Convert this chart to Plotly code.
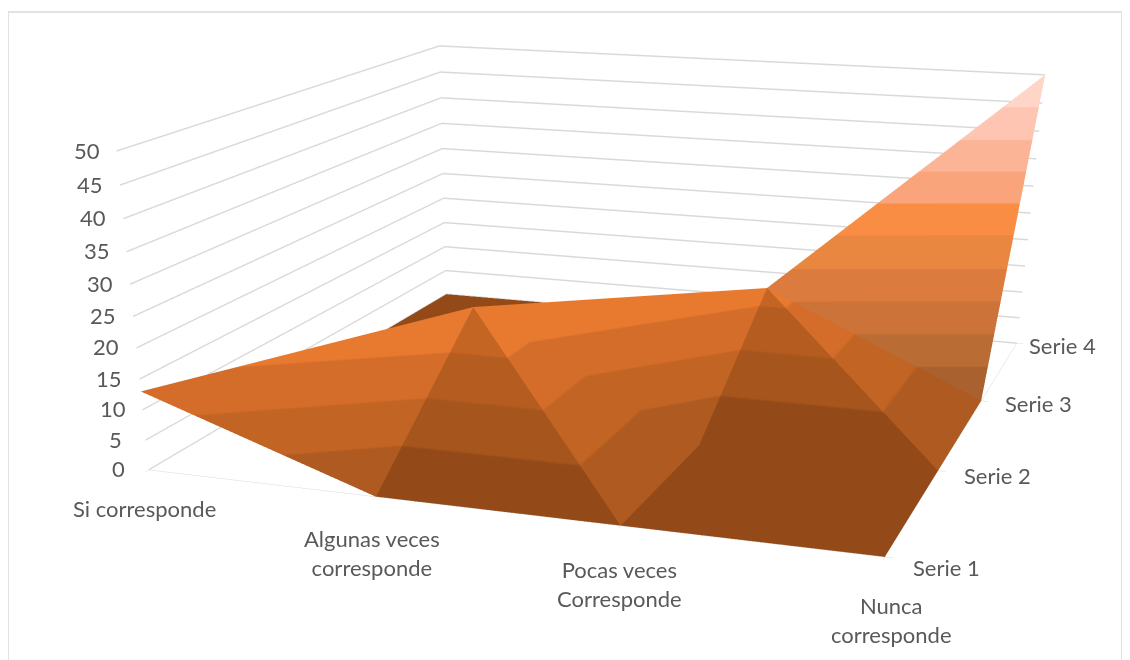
import plotly.graph_objects as go

categories = ["Si corresponde", "Algunas veces<br>corresponde", "Pocas veces<br>Corresponde", "Nunca<br>corresponde"]
series_names = ["Serie 1", "Serie 2", "Serie 3", "Serie 4"]
serie_1 = [13, 0, 0, 0]
serie_2 = [0, 20, 0, 0]
serie_3 = [0, 0, 17, 0]
serie_4 = [0, 0, 0, 50]
z_ticks = [0, 5, 10, 15, 20, 25, 30, 35, 40, 45, 50]

rows = [serie_1, serie_2, serie_3, serie_4]
n = len(categories)
xs, ys, zs = [], [], []
for s, row in enumerate(rows):
    for c, v in enumerate(row):
        xs.append(c); ys.append(s); zs.append(v)

def vid(c, s):
    return s * n + c

dark_bands = ["#944A18", "#A6561C", "#B55C20", "#C56524"]
bright_bands = ["#AE5A20", "#C26423", "#D46D29", "#E87A30"]
pale_bands = ["#A9612F", "#BA6C35", "#CC7339", "#DB7B3D", "#E98741",
              "#F98D44", "#F9A47A", "#FBB596", "#FEC6B2", "#FFD5C8"]

def band_scale(bands):
    # 5-unit bands over [-5, 55]; the outer bands repeat the end colours
    bands = bands + [bands[-1]] * (10 - len(bands))
    bands = [bands[0]] + bands + [bands[-1]]
    m = len(bands)
    out = []
    for i, col in enumerate(bands):
        out.append([i / m, col]); out.append([(i + 1) / m, col])
    return out

dark_faces = [((1,0),(2,0),(1,1)), ((2,0),(3,0),(2,1)), ((3,0),(3,1),(2,1)),
              ((2,1),(3,1),(2,2)), ((0,1),(1,1),(0,2)), ((1,1),(1,2),(0,2)),
              ((0,2),(1,2),(0,3)), ((1,2),(1,3),(0,3)), ((1,2),(2,2),(1,3)), ((2,2),(2,3),(1,3)),
              ((2,2),(3,3),(2,3))]
bright_faces = [((0,0),(1,0),(1,1)), ((0,0),(1,1),(0,1)), ((1,1),(2,0),(2,1)), ((1,1),(2,1),(2,2)),
                ((1,1),(2,2),(1,2)), ((2,2),(3,1),(3,2))]
pale_faces = [((2,2),(3,2),(3,3))]

fig = go.Figure()
# floor patch under the flat zero cells, so that no seam shows between their facets
fig.add_trace(go.Mesh3d(x=[1, 3, 3, 1], y=[0, 0, 2, 1], z=[0, 0, 0, 0], i=[0, 1], j=[1, 2], k=[3, 3],
                        color=dark_bands[0], flatshading=True, hoverinfo="skip",
                        lighting=dict(ambient=1, diffuse=0, specular=0, roughness=1, fresnel=0)))
for faces, bands in ((dark_faces, dark_bands), (bright_faces, bright_bands), (pale_faces, pale_bands)):
    fig.add_trace(go.Mesh3d(
        x=xs, y=ys, z=zs,
        i=[vid(*f[0]) for f in faces], j=[vid(*f[1]) for f in faces], k=[vid(*f[2]) for f in faces],
        intensity=zs, cmin=-5, cmax=55, colorscale=band_scale(bands), showscale=False,
        flatshading=True, hoverinfo="skip",
        lighting=dict(ambient=1, diffuse=0, specular=0, roughness=1, fresnel=0),
    ))

font = dict(family="Lato, Open Sans, sans-serif", size=22, color="#595959")
cat_dx = [-4, -4, -1, 7]
cat_dy = [-39, -56, -58, -63]
ser_dx = [62, 59, 57, 46]
ser_dy = [-10, -5, -3, -2]
ann = []
for c, t in enumerate(categories):
    ann.append(dict(x=c, y=0, z=0, text=t, showarrow=False, font=font, xshift=cat_dx[c], yshift=cat_dy[c]))
for s, t in enumerate(series_names):
    ann.append(dict(x=3, y=s, z=0, text=t, showarrow=False, font=font, xshift=ser_dx[s], yshift=ser_dy[s]))
for t in z_ticks:
    ann.append(dict(x=0, y=0, z=t, text=str(t), showarrow=False, font=font, xshift=-30, yshift=1))

H = 1700
axis_common = dict(backgroundcolor="rgba(0,0,0,0)", showbackground=False, showspikes=False,
                   title=dict(text=""), showticklabels=False, zeroline=False)
fig.update_layout(
    width=1114, height=H, margin=dict(l=0, r=0, t=0, b=0), paper_bgcolor="white", showlegend=False,
    shapes=[dict(type="rect", xref="paper", yref="paper", x0=0, x1=1, y0=0, y1=1 - 4 / H,
                 line=dict(color="#D9D9D9", width=1.5))],
    scene=dict(
        aspectmode="manual", aspectratio=dict(x=5.375, y=5.637, z=2.207),
        camera=dict(eye=dict(x=4.924, y=-15.335, z=3.543), center=dict(x=1.164, y=-4.698, z=-2.625), up=dict(x=0, y=0, z=1)),
        annotations=ann,
        xaxis=dict(axis_common, range=[0, 3], tickvals=[0, 1, 2, 3], showgrid=False, showline=True,
                   linecolor="#D9D9D9", ticks="outside", ticklen=6, tickcolor="#D9D9D9"),
        yaxis=dict(axis_common, range=[0, 3], tickvals=[0, 1, 2, 3], showgrid=False, showline=True,
                   linecolor="#D9D9D9", ticks="outside", ticklen=6, tickcolor="#D9D9D9"),
        zaxis=dict(axis_common, range=[0, 50], tickvals=z_ticks, showgrid=True, gridcolor="#D9D9D9", gridwidth=3,
                   showline=False, ticks=""),
    ),
)
fig.write_html("out.html")
